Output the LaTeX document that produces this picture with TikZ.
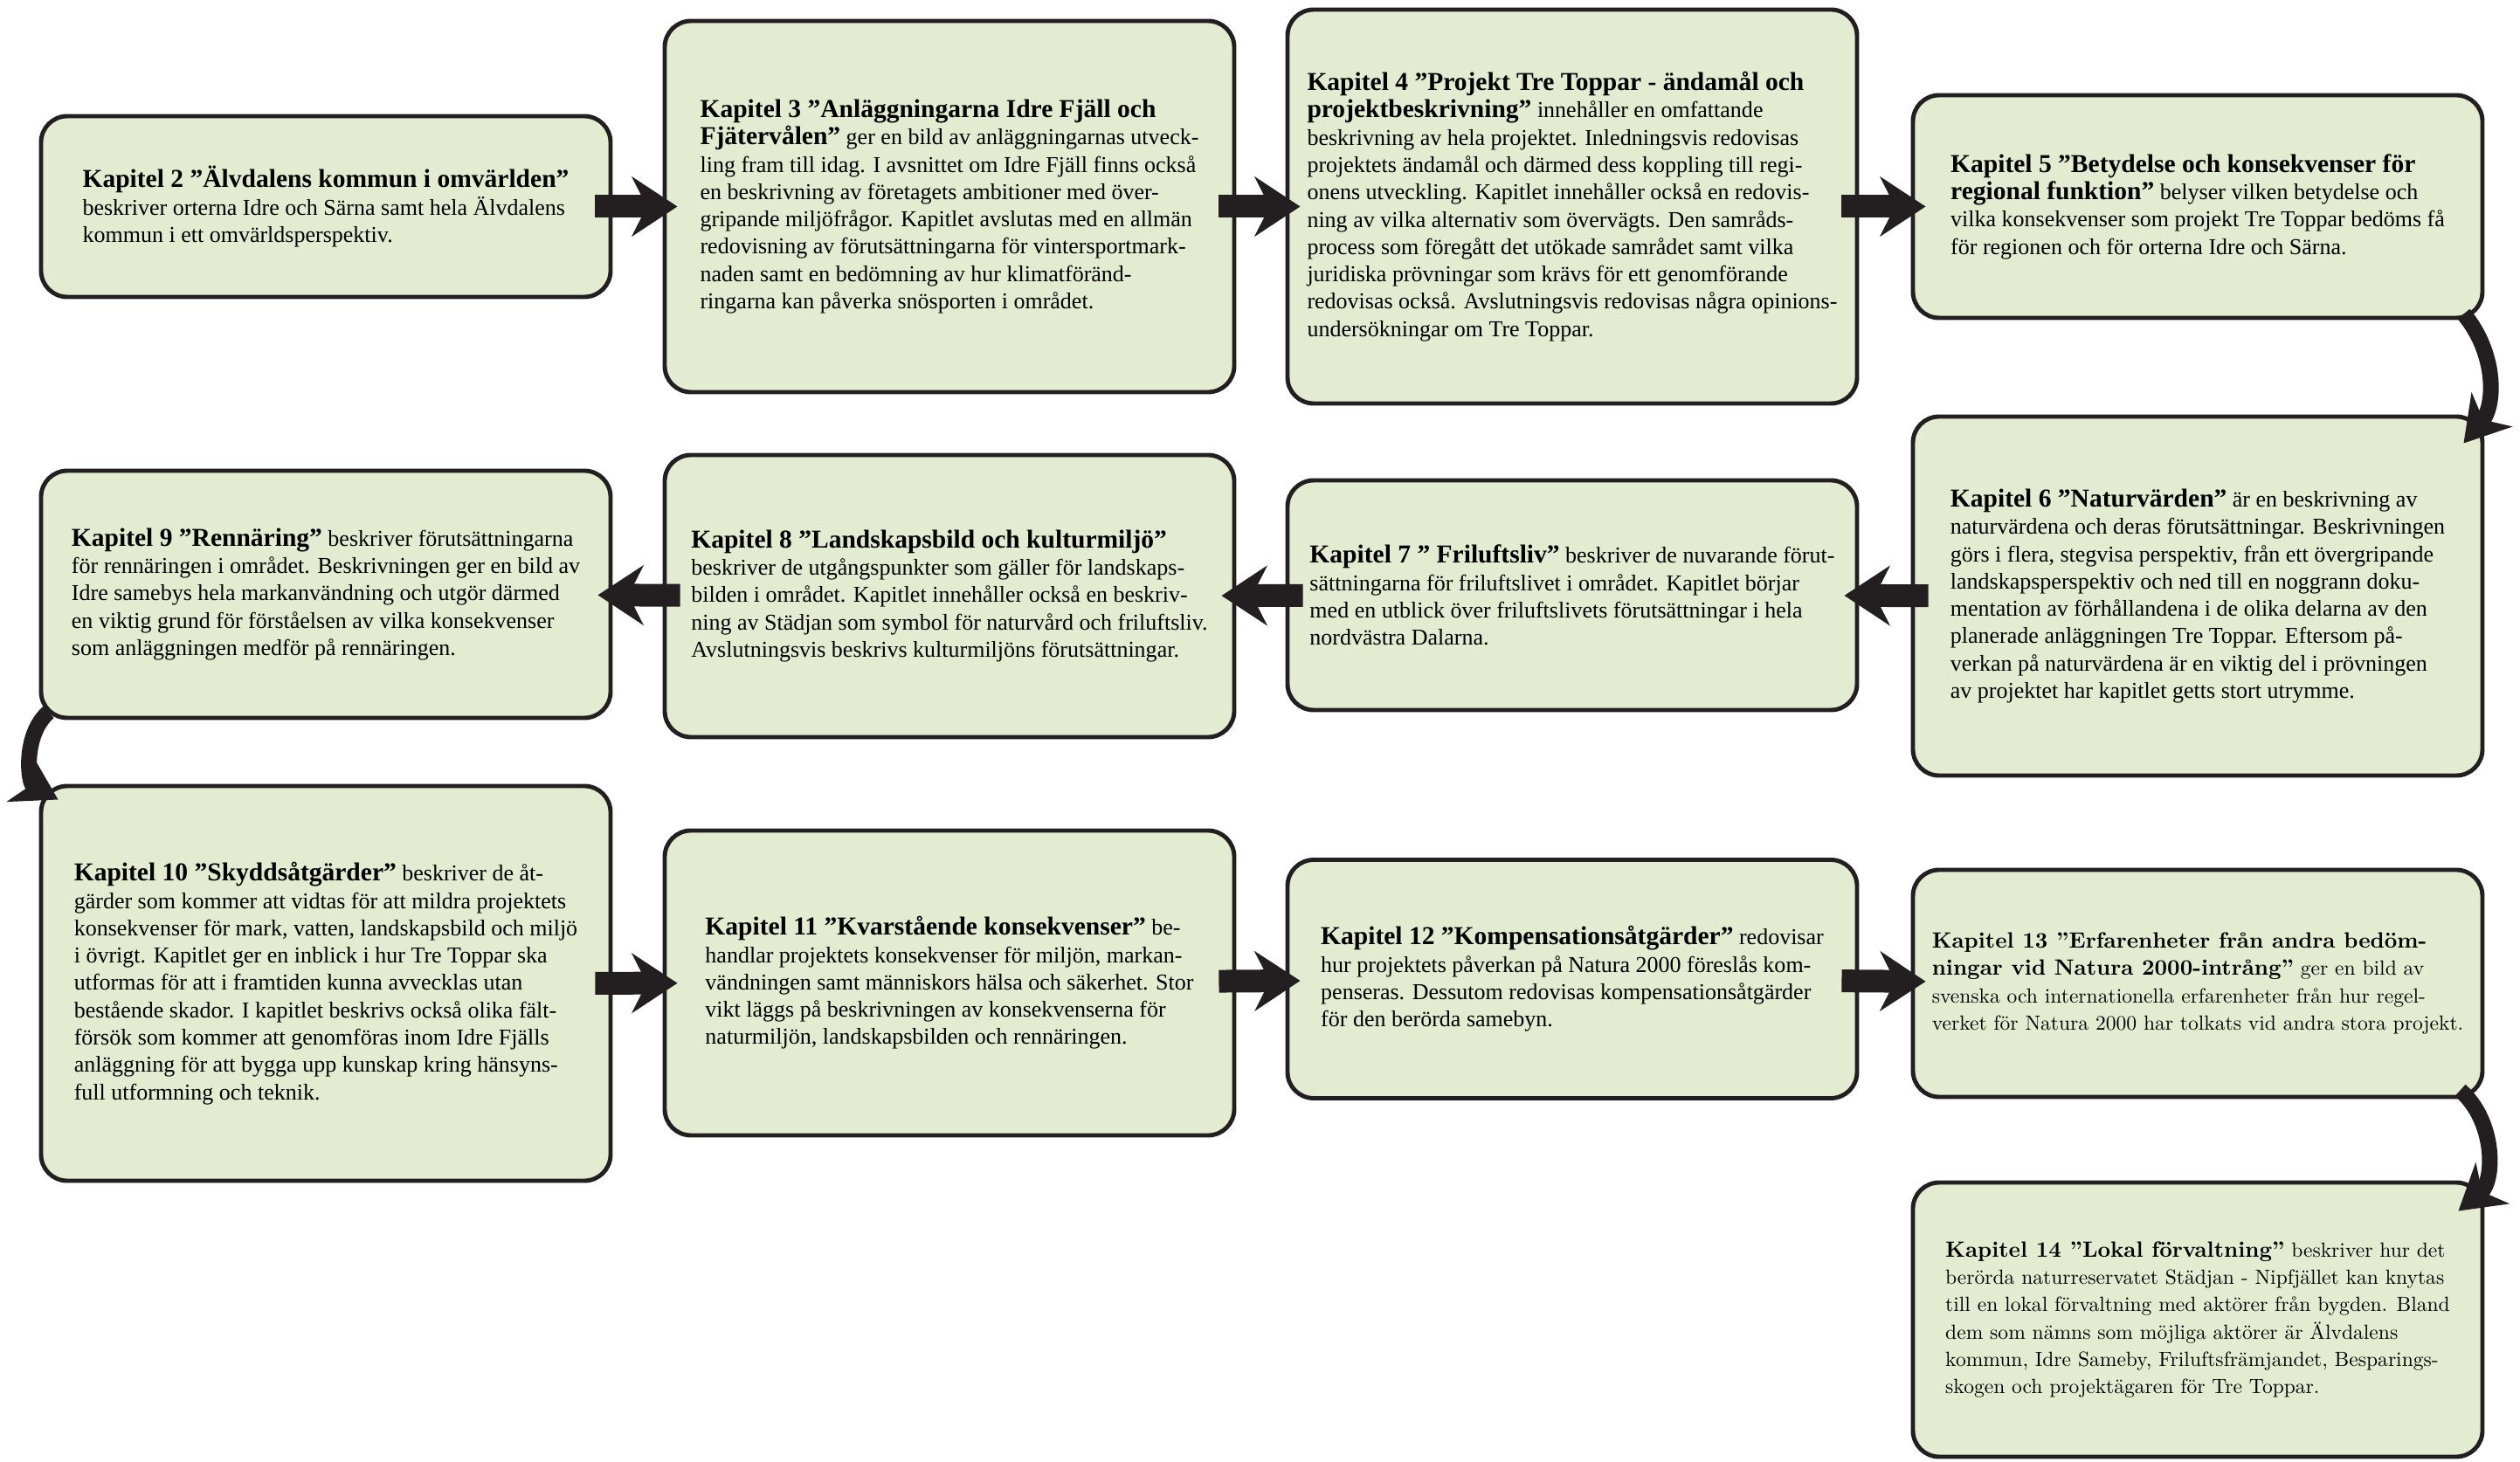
\documentclass[tikz,border=0pt]{standalone}
\usepackage{fontspec}
\setmainfont{Liberation Serif}
\newfontfamily\lmfam{lmroman10}[Extension=.otf, UprightFont=*-regular, BoldFont=*-bold]
\usetikzlibrary{arrows.meta}

\definecolor{ruta}{RGB}{227,235,208}
\definecolor{mork}{RGB}{35,31,32}
\newcommand{\kap}[1]{{\fontsize{8.4}{8.9}\selectfont\bfseries #1}}
\newcommand{\kaplm}[1]{{\fontsize{7.2}{8.9}\selectfont\bfseries #1}}

\tikzset{
  kapitel/.style={draw=mork, fill=ruta, line width=1.4pt, rounded corners=0.3cm,
    minimum width=6.52cm, align=left, inner sep=0pt, font=\fontsize{7.4}{8.9}\selectfont},
  lmkapitel/.style={kapitel, font=\lmfam\fontsize{6.7}{8.9}\selectfont},
  pil/.style={draw=mork, line width=0.26cm, shorten <=-0.2cm, shorten >=-0.17cm,
    -{Stealth[length=0.52cm,width=0.68cm,inset=0.17cm]}},
  bojpil/.style={draw=mork, line width=0.18cm,
    -{Stealth[length=0.5cm,width=0.6cm,inset=0.15cm]}}
}

\begin{document}
\begin{tikzpicture}
  \useasboundingbox (0,0) rectangle (28.85,16.73);

  \node[kapitel, minimum height=2.07cm] (k2) at (3.73,14.365) {\kap{Kapitel 2 ”Älvdalens kommun i omvärlden”}\\
    beskriver orterna Idre och Särna samt hela Älvdalens\\
    kommun i ett omvärldsperspektiv.};
  \node[kapitel, minimum height=4.25cm] (k3) at (10.87,14.365) {\kap{Kapitel 3 ”Anläggningarna Idre Fjäll och}\\
    \kap{Fjätervålen”} ger en bild av anläggningarnas utveck-\\
    ling fram till idag. I avsnittet om Idre Fjäll finns också\\
    en beskrivning av företagets ambitioner med över-\\
    gripande miljöfrågor. Kapitlet avslutas med en allmän\\
    redovisning av förutsättningarna för vintersportmark-\\
    naden samt en bedömning av hur klimatföränd-\\
    ringarna kan påverka snösporten i området.};
  \node[kapitel, minimum height=4.51cm] (k4) at (18.00,14.365) {\kap{Kapitel 4 ”Projekt Tre Toppar - ändamål och}\\
    \kap{projektbeskrivning”} innehåller en omfattande\\
    beskrivning av hela projektet. Inledningsvis redovisas\\
    projektets ändamål och därmed dess koppling till regi-\\
    onens utveckling. Kapitlet innehåller också en redovis-\\
    ning av vilka alternativ som övervägts. Den samråds-\\
    process som föregått det utökade samrådet samt vilka\\
    juridiska prövningar som krävs för ett genomförande\\
    redovisas också. Avslutningsvis redovisas några opinions-\\
    undersökningar om Tre Toppar.};
  \node[kapitel, minimum height=2.55cm] (k5) at (25.16,14.365) {\kap{Kapitel 5 ”Betydelse och konsekvenser för}\\
    \kap{regional funktion”} belyser vilken betydelse och\\
    vilka konsekvenser som projekt Tre Toppar bedöms få\\
    för regionen och för orterna Idre och Särna.};

  \node[kapitel, minimum height=4.11cm] (k6) at (25.16,9.905) {\kap{Kapitel 6 ”Naturvärden”} är en beskrivning av\\
    naturvärdena och deras förutsättningar. Beskrivningen\\
    görs i flera, stegvisa perspektiv, från ett övergripande\\
    landskapsperspektiv och ned till en noggrann doku-\\
    mentation av förhållandena i de olika delarna av den\\
    planerade anläggningen Tre Toppar. Eftersom på-\\
    verkan på naturvärdena är en viktig del i prövningen\\
    av projektet har kapitlet getts stort utrymme.};
  \node[kapitel, minimum height=2.63cm] (k7) at (18.00,9.915) {\kap{Kapitel 7 ” Friluftsliv”} beskriver de nuvarande förut-\\
    sättningarna för friluftslivet i området. Kapitlet börjar\\
    med en utblick över friluftslivets förutsättningar i hela\\
    nordvästra Dalarna.};
  \node[kapitel, minimum height=3.23cm] (k8) at (10.87,9.905) {\kap{Kapitel 8 ”Landskapsbild och kulturmiljö”}\\
    beskriver de utgångspunkter som gäller för landskaps-\\
    bilden i området. Kapitlet innehåller också en beskriv-\\
    ning av Städjan som symbol för naturvård och friluftsliv.\\
    Avslutningsvis beskrivs kulturmiljöns förutsättningar.};
  \node[kapitel, minimum height=2.83cm] (k9) at (3.73,9.925) {\kap{Kapitel 9 ”Rennäring”} beskriver förutsättningarna\\
    för rennäringen i området. Beskrivningen ger en bild av\\
    Idre samebys hela markanvändning och utgör därmed\\
    en viktig grund för förståelsen av vilka konsekvenser\\
    som anläggningen medför på rennäringen.};

  \node[kapitel, minimum height=4.52cm] (k10) at (3.73,5.47) {\kap{Kapitel 10 ”Skyddsåtgärder”} beskriver de åt-\\
    gärder som kommer att vidtas för att mildra projektets\\
    konsekvenser för mark, vatten, landskapsbild och miljö\\
    i övrigt. Kapitlet ger en inblick i hur Tre Toppar ska\\
    utformas för att i framtiden kunna avvecklas utan\\
    bestående skador. I kapitlet beskrivs också olika fält-\\
    försök som kommer att genomföras inom Idre Fjälls\\
    anläggning för att bygga upp kunskap kring hänsyns-\\
    full utformning och teknik.};
  \node[kapitel, minimum height=3.49cm] (k11) at (10.87,5.475) {\kap{Kapitel 11 ”Kvarstående konsekvenser”} be-\\
    handlar projektets konsekvenser för miljön, markan-\\
    vändningen samt människors hälsa och säkerhet. Stor\\
    vikt läggs på beskrivningen av konsekvenserna för\\
    naturmiljön, landskapsbilden och rennäringen.};
  \node[kapitel, minimum height=2.73cm] (k12) at (18.00,5.52) {\kap{Kapitel 12 ”Kompensationsåtgärder”} redovisar\\
    hur projektets påverkan på Natura 2000 föreslås kom-\\
    penseras. Dessutom redovisas kompensationsåtgärder\\
    för den berörda samebyn.};
  \node[lmkapitel, minimum height=2.60cm] (k13) at (25.16,5.47) {\kaplm{Kapitel 13 ”Erfarenheter från andra bedöm-}\\
    \kaplm{ningar vid Natura 2000-intrång”} ger en bild av\\
    svenska och internationella erfarenheter från hur regel-\\
    verket för Natura 2000 har tolkats vid andra stora projekt.};

  \node[lmkapitel, minimum height=3.14cm] (k14) at (25.16,1.62) {\kaplm{Kapitel 14 ”Lokal förvaltning”} beskriver hur det\\
    berörda naturreservatet Städjan - Nipfjället kan knytas\\
    till en lokal förvaltning med aktörer från bygden. Bland\\
    dem som nämns som möjliga aktörer är Älvdalens\\
    kommun, Idre Sameby, Friluftsfrämjandet, Besparings-\\
    skogen och projektägaren för Tre Toppar.};

  \draw[pil] (k2) -- (k3);
  \draw[pil] (k3) -- (k4);
  \draw[pil] (k4) -- (k5);
  \draw[pil] (k6) -- (k7);
  \draw[pil] (k7) -- (k8);
  \draw[pil] (k8) -- (k9);
  \draw[pil] (k10) -- (k11);
  \draw[pil] (k11) -- (k12);
  \draw[pil] (k12) -- (k13);

  \draw[bojpil] ([shift={(-0.24,0.07)}]k5.south east) to[bend left=40] ([shift={(-0.24,-0.33)}]k6.north east);
  \draw[bojpil] ([shift={(0.11,0.09)}]k9.south west) to[bend right=55] ([shift={(0.22,-0.18)}]k10.north west);
  \draw[bojpil] ([shift={(-0.28,0.1)}]k13.south east) to[bend left=50] ([shift={(-0.3,-0.35)}]k14.north east);
\end{tikzpicture}
\end{document}
